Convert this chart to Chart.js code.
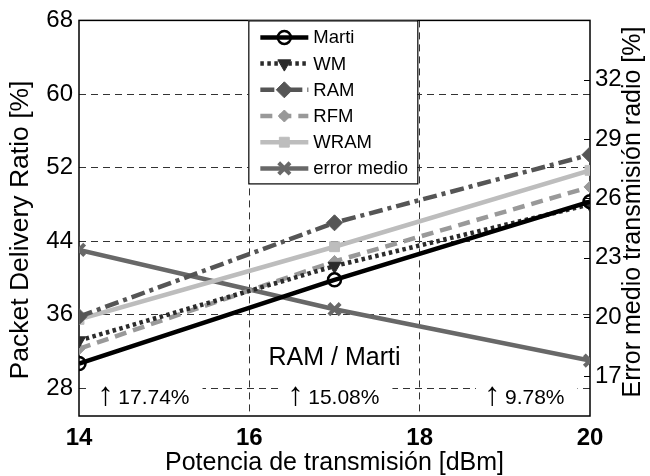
<!DOCTYPE html>
<html>
<head>
<meta charset="utf-8">
<script src="https://cdn.jsdelivr.net/npm/chart.js@4/dist/chart.umd.min.js"></script>
<style>
  html, body { margin: 0; padding: 0; background: #fff; }
  #wrap { width: 650px; height: 476px; }
</style>
</head>
<body>
<div id="wrap"><canvas id="grafico" width="650" height="476"></canvas></div>
<script>
// ---- datos ----
const potencia = [14, 17, 20];
const marti = [30.7, 39.8, 48.3];
const wm = [33.2, 41.3, 48.0];
const ram = [35.8, 46.0, 53.4];
const rfm = [32.3, 41.8, 49.9];
const wram = [35.5, 43.4, 51.7];
const errorMedio = [23.4, 20.4, 17.8];

const xTicks = [14, 16, 18, 20];
const pdrTicks = [28, 36, 44, 52, 60, 68];
const errTicks = [17, 20, 23, 26, 29, 32];
const mejoras = ['17.74%', '15.08%', '9.78%'];
const etiquetaRatio = 'RAM / Marti';
const tituloIzq = 'Packet Delivery Ratio [%]';
const tituloDer = 'Error medio transmisión radio [%]';

const FUENTE = '"Liberation Sans", Arial, Helvetica, sans-serif';
Chart.defaults.font.family = FUENTE;
Chart.defaults.color = '#000';

const pares = arr => arr.map((v, i) => ({ x: potencia[i], y: v }));

const datasets = [
  { label: 'Marti', data: pares(marti), yAxisID: 'y', borderColor: '#000', borderWidth: 4.5,
    pointStyle: 'circle', pointRadius: 6.5, pointBorderWidth: 2.5,
    pointBorderColor: '#000', pointBackgroundColor: 'rgba(0,0,0,0)' },
  { label: 'WM', data: pares(wm), yAxisID: 'y', borderColor: '#2b2b2b', borderWidth: 4.5,
    borderDash: [3.5, 3.5], pointStyle: 'triangle', pointRotation: 180, pointRadius: 7.5,
    pointBorderWidth: 1, pointBorderColor: '#2b2b2b', pointBackgroundColor: '#2b2b2b' },
  { label: 'RAM', data: pares(ram), yAxisID: 'y', borderColor: '#555', borderWidth: 4.5,
    borderDash: [14, 5, 4, 5], pointStyle: 'rectRot', pointRadius: 8,
    pointBorderWidth: 1, pointBorderColor: '#555', pointBackgroundColor: '#555' },
  { label: 'RFM', data: pares(rfm), yAxisID: 'y', borderColor: '#999', borderWidth: 4.5,
    borderDash: [12, 7], pointStyle: 'rectRot', pointRadius: 6,
    pointBorderWidth: 1, pointBorderColor: '#999', pointBackgroundColor: '#999' },
  { label: 'WRAM', data: pares(wram), yAxisID: 'y', borderColor: '#bdbdbd', borderWidth: 4.5,
    pointStyle: 'rect', pointRadius: 7,
    pointBorderWidth: 1, pointBorderColor: '#bdbdbd', pointBackgroundColor: '#bdbdbd' },
  { label: 'error medio', data: pares(errorMedio), yAxisID: 'y1', borderColor: '#686868', borderWidth: 4.5,
    pointStyle: 'crossRot', pointRadius: 8, pointBorderWidth: 4,
    pointBorderColor: '#686868', pointBackgroundColor: '#686868' }
];

const gridGris = '#333';

// titulos verticales, marco, marcas del eje derecho, anotaciones y leyenda
const extras = {
  id: 'extras',
  beforeDatasetsDraw(chart) {
    const { ctx, chartArea: a, scales } = chart;
    ctx.save();
    // anotaciones con fondo blanco
    ctx.textBaseline = 'alphabetic';
    ctx.textAlign = 'left';
    const xs = [14.25, 16.48, 18.79];
    const yBase = scales.y.getPixelForValue(26.26);
    mejoras.forEach((t, i) => {
      const xPix = scales.x.getPixelForValue(xs[i]);
      ctx.font = '21px ' + FUENTE;
      const wNum = ctx.measureText(t).width;
      ctx.fillStyle = '#fff';
      ctx.fillRect(xPix - 11, yBase - 22, wNum + 42, 27);
      ctx.fillStyle = '#000';
      ctx.fillText(t, xPix + 18, yBase);
      ctx.font = '33px ' + FUENTE;
      ctx.fillText('\u2191', xPix - 3, yBase + 1);
    });
    ctx.font = '25px ' + FUENTE;
    ctx.textAlign = 'center';
    ctx.textBaseline = 'middle';
    ctx.fillText(etiquetaRatio, scales.x.getPixelForValue(17), scales.y.getPixelForValue(31.25));

    // marcas hacia dentro en el eje derecho
    ctx.strokeStyle = '#000';
    ctx.lineWidth = 1;
    errTicks.forEach(v => {
      const yp = Math.round(scales.y1.getPixelForValue(v)) + 0.5;
      ctx.beginPath(); ctx.moveTo(a.right - 6, yp); ctx.lineTo(a.right, yp); ctx.stroke();
    });
    // marco del area
    ctx.lineWidth = 1.5;
    ctx.strokeRect(a.left, a.top, a.right - a.left, a.bottom - a.top);
    ctx.restore();
  },
  afterDraw(chart) {
    const { ctx, scales } = chart;
    ctx.save();
    // titulos de los ejes verticales (ambos de abajo hacia arriba)
    ctx.fillStyle = '#000';
    ctx.textAlign = 'center';
    ctx.textBaseline = 'middle';
    [[tituloIzq, 21, 230, 26.5], [tituloDer, 633, 212, 25]].forEach(([t, x, y, s]) => {
      ctx.save();
      ctx.font = s + 'px ' + FUENTE;
      ctx.translate(x, y);
      ctx.rotate(-Math.PI / 2);
      ctx.fillText(t, 0, 0);
      ctx.restore();
    });

    // leyenda
    const bx = scales.x.getPixelForValue(16) - 1;
    const by = chart.chartArea.top;
    const bw = 169, bh = 163;
    ctx.fillStyle = '#fff';
    ctx.fillRect(bx, by, bw, bh);
    ctx.strokeStyle = '#000';
    ctx.lineWidth = 1.2;
    ctx.strokeRect(bx + 0.5, by + 0.5, bw, bh);
    ctx.font = '18.5px ' + FUENTE;
    ctx.textBaseline = 'middle';
    ctx.textAlign = 'left';
    chart.data.datasets.forEach((ds, i) => {
      const yy = by + 17 + i * 26.2;
      ctx.setLineDash(ds.borderDash || []);
      ctx.strokeStyle = ds.borderColor;
      ctx.lineWidth = ds.borderWidth;
      ctx.beginPath(); ctx.moveTo(bx + 12, yy); ctx.lineTo(bx + 60, yy); ctx.stroke();
      ctx.setLineDash([]);
      ctx.strokeStyle = ds.pointBorderColor;
      ctx.fillStyle = ds.pointBackgroundColor;
      ctx.lineWidth = ds.pointBorderWidth;
      Chart.helpers.drawPoint(ctx, {
        pointStyle: ds.pointStyle, radius: ds.pointRadius,
        rotation: ds.pointRotation || 0, borderWidth: ds.pointBorderWidth
      }, bx + 36, yy);
      ctx.fillStyle = '#000';
      ctx.fillText(ds.label, bx + 65, yy + 1);
    });
    ctx.restore();
  }
};

new Chart(document.getElementById('grafico'), {
  type: 'line',
  data: { datasets: datasets },
  options: {
    responsive: false,
    animation: false,
    devicePixelRatio: 1,
    layout: { padding: { top: 20, left: 0, right: 0, bottom: 0 } },
    plugins: { legend: { display: false }, tooltip: { enabled: false } },
    scales: {
      x: {
        type: 'linear', min: 14, max: 20,
        afterBuildTicks: s => { s.ticks = xTicks.map(v => ({ value: v })); },
        afterFit: s => { s.height = 60; },
        grid: {
          drawTicks: false, lineWidth: 1,
          color: c => (c.tick && (c.tick.value === 16 || c.tick.value === 18)) ? gridGris : 'rgba(0,0,0,0)'
        },
        border: { display: false, dash: [7, 5] },
        ticks: { font: { size: 24, weight: 'bold' }, color: '#000', padding: 8, maxRotation: 0 },
        title: { display: true, text: 'Potencia de transmisión [dBm]', font: { size: 25 }, color: '#000',
                 padding: { top: 0, bottom: -2 } }
      },
      y: {
        position: 'left', min: 25, max: 68,
        afterBuildTicks: s => { s.ticks = pdrTicks.map(v => ({ value: v })); },
        afterFit: s => { s.width = 79; },
        grid: {
          drawTicks: false, lineWidth: 1,
          color: c => (c.tick && c.tick.value < 68) ? gridGris : 'rgba(0,0,0,0)'
        },
        border: { display: false, dash: [7, 5] },
        ticks: { font: { size: 24 }, color: '#000', padding: 6 }
      },
      y1: {
        position: 'right', min: 15, max: 35,
        afterBuildTicks: s => { s.ticks = errTicks.map(v => ({ value: v })); },
        afterFit: s => { s.width = 60; },
        grid: { drawOnChartArea: false, drawTicks: false },
        border: { display: false },
        ticks: { font: { size: 24 }, color: '#000', padding: 5 }
      }
    }
  },
  plugins: [extras]
});
</script>
</body>
</html>
